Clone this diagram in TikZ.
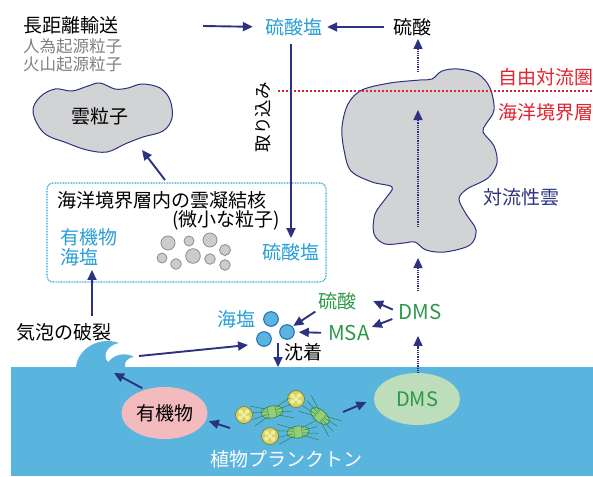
\documentclass[tikz,border=0pt]{standalone}
\usepackage{fontspec}
\setmainfont{Noto Sans CJK JP}
\usetikzlibrary{arrows.meta,shapes.geometric}

\definecolor{navy}{RGB}{44,49,128}
\definecolor{skyblue}{RGB}{40,158,214}
\definecolor{leafgreen}{RGB}{44,152,74}
\definecolor{alertred}{RGB}{224,36,46}
\definecolor{seablue}{RGB}{90,181,222}
\definecolor{saltedge}{RGB}{30,105,175}
\definecolor{cloudgray}{RGB}{210,211,213}
\definecolor{midgray}{RGB}{128,128,128}
\definecolor{pinkfill}{RGB}{243,187,190}
\definecolor{dmsfill}{RGB}{190,221,186}
\definecolor{diatomfill}{RGB}{150,205,120}
\definecolor{diatomline}{RGB}{45,130,80}
\definecolor{coccofill}{RGB}{214,212,100}
\definecolor{coccocell}{RGB}{240,236,160}

% diatom: x, y, angle
\newcommand{\diatom}[3]{%
  \begin{scope}[shift={(#1,#2)}, rotate=#3]
    \draw[fill=diatomfill, draw=diatomline, line width=0.6pt] (0,0) ellipse [x radius=11, y radius=6];
    \draw[diatomline, line width=0.4pt] (-4,-5.5) -- (-4,5.5) (4,-5.5) -- (4,5.5);
    \foreach \s in {-1,1} {
      \foreach \t in {-3,-1,1,3} {
        \draw[diatomline, line width=0.5pt] (\s*5,\t*1.3) -- (\s*20,\t*3.4);
      }
    }
  \end{scope}}

% coccolith: x, y
\newcommand{\coccolith}[2]{%
  \begin{scope}[shift={(#1,#2)}]
    \draw[fill=coccofill, draw=black!45!coccofill, line width=0.6pt] (0,0) circle [radius=8.5];
    \foreach \dx/\dy in {-3.2/-3, 3/-3.4, -3.6/2.6, 3.2/2.8, 0/0} {
      \fill[coccocell] (\dx,\dy) circle [radius=2.2];
    }
  \end{scope}}

\begin{document}
\begin{tikzpicture}[x=1pt, y=-1pt,
  lbl/.style={inner sep=0pt, font=\fontsize{19}{22}\selectfont},
  small/.style={inner sep=0pt, text=midgray, font=\fontsize{16.5}{19}\selectfont},
  arr/.style={draw=navy, line width=1.9pt, -{Triangle[length=10pt, width=9pt]}},
  dotarr/.style={draw=navy, line width=1.4pt, dash pattern=on 1pt off 0.8pt, -{Triangle[length=10pt, width=9pt]}},
  cloudline/.style={fill=cloudgray, draw=navy, line width=1pt},
  saltball/.style={circle, inner sep=0pt, minimum size=14.6pt, fill=seablue, draw=saltedge, line width=1pt},
  blob/.style={ellipse, inner sep=0pt, minimum width=86pt, minimum height=52pt, font=\fontsize{19}{22}\selectfont}]

\useasboundingbox (0,0) rectangle (593,476);

% sea and breaking wave
\fill[seablue] (11,367) rectangle (593,476);
\fill[seablue] (76,367) .. controls (78,348) and (100,336) .. (119,343)
  .. controls (107,345) and (102,356) .. (108,362)
  .. controls (115,354) and (125,352) .. (134,357)
  .. controls (127,358) and (124,362) .. (125,367) -- cycle;
\coordinate (seaTop) at (11,367);

% convective cloud
\draw[cloudline] plot[smooth cycle, tension=0.55] coordinates {
  (342,127) (348,104) (362,90) (390,83) (420,80) (432,79) (442,71) (458,69)
  (478,74) (490,88) (494,110) (486,124) (483,132) (494,146) (497,163) (488,178)
  (467,189) (459,199) (466,214) (476,230) (470,245) (445,252) (426,250) (415,242)
  (404,243) (385,244) (374,234) (375,214) (386,198) (392,187) (372,182) (351,171) (344,150)};

% cloud droplet
\draw[cloudline] plot[smooth cycle, tension=0.6] coordinates {
  (33,112) (40,97) (55,89) (72,91) (88,86) (100,83) (115,89) (128,88) (142,84)
  (160,88) (170,100) (172,118) (163,131) (143,137) (125,144) (107,152) (87,150)
  (67,143) (44,133)};
\node[lbl] (cdrop) at (100,116) {雲粒子};

% free troposphere / boundary layer line
\coordinate (ftL) at (278,91);
\coordinate (ftR) at (593,91);
\draw[alertred, line width=2pt, dash pattern=on 2pt off 2pt] (ftL) -- (ftR);
\node[lbl, text=alertred] (freeTrop) at (545.5,77) {自由対流圏};
\node[lbl, text=alertred] (mbl) at (545.5,112) {海洋境界層};
\node[lbl, text=navy] (convCloud) at (521,197) {対流性雲};

% top labels
\node[lbl, anchor=west] (transport) at (23,25) {長距離輸送};
\node[small, anchor=west] (anthro) at (23,46) {人為起源粒子};
\node[small, anchor=west] (volcano) at (23,64) {火山起源粒子};
\node[lbl, text=skyblue] (sulfTop) at (293.5,27) {硫酸塩};
\node[lbl] (sacid) at (412.5,27) {硫酸};
\node[lbl, rotate=90, font=\fontsize{17.5}{20}\selectfont] (uptake) at (263,117) {取り込み};

% CCN box
\node[draw=skyblue, line width=1.2pt, dash pattern=on 0.8pt off 0.8pt, rounded corners=6pt,
  minimum width=279pt, minimum height=99pt, inner sep=0pt] (ccn) at (186.5,232.5) {};
\node[lbl, anchor=west] (ccnTitle) at (57,200) {海洋境界層内の雲凝結核};
\node[lbl] (ccnSub) at (226,220) {(微小な粒子)};
\node[lbl, text=skyblue, anchor=west] (organic) at (60,237) {有機物};
\node[lbl, text=skyblue, anchor=west] (seasalt) at (60,257) {海塩};
\node[lbl, text=skyblue] (sulfBox) at (291,252) {硫酸塩};
\foreach \x/\y/\r in {168/243/7, 189/241/5, 210/240/7, 225/250/5.5, 162/258/5,
                      176/264/5.3, 193/256/7.3, 210/259/5.3, 225/265/5.3} {
  \draw[fill=black!20, draw=black!45, line width=0.8pt] (\x,\y) circle [radius=\r];
}

% sea salt, acids near the surface
\node[lbl] (burst) at (64,332) {気泡の破裂};
\node[lbl, text=skyblue] (saltLbl) at (236,319) {海塩};
\node[saltball] (s1) at (271,319) {};
\node[saltball] (s2) at (264,339) {};
\node[saltball] (s3) at (287,332) {};
\node[lbl, text=leafgreen] (gacid) at (337,301) {硫酸};
\node[lbl, text=leafgreen, font=\fontsize{20.5}{24}\selectfont] (msa) at (349,333) {MSA};
\node[lbl, text=leafgreen, font=\fontsize{20.5}{24}\selectfont] (dmsAir) at (420,312) {DMS};
\node[lbl] (depo) at (303,352) {沈着};

% ocean
\node[blob, fill=pinkfill] (orgSea) at (164.5,413) {有機物};
\node[blob, fill=dmsfill, text=leafgreen, font=\fontsize{20}{24}\selectfont] (dmsSea) at (417,399) {DMS};
\node[lbl, text=white] (plankton) at (286,459) {植物プランクトン};
\coccolith{244}{415}
\coccolith{296}{399}
\coccolith{270}{436}
\diatom{272}{412}{12}
\diatom{320}{416}{-40}
\diatom{298}{432}{6}

% free ends of the connectors
\coordinate (ltStart) at (203,26);
\coordinate (cTop) at (418,72);
\coordinate (cBot) at (418,245);
\coordinate (cIn1) at (418,227);
\coordinate (cIn2) at (418,110);
\coordinate (ccnTop) at (165,180);
\coordinate (dropIn) at (142,150);
\coordinate (burstTop) at (92,316);
\coordinate (waveTip) at (139,356);
\coordinate (saltHit) at (248,345);
\coordinate (depX) at (278,343);
\coordinate (waveIn) at (114,373);
\coordinate (plkL) at (230,428);
\coordinate (plkR) at (343,412);

% transport and uptake
\draw[arr, shorten >=12pt] (ltStart) -- (sulfTop.west);
\draw[arr, shorten <=9pt, shorten >=5pt] (sacid.west) -- (sulfTop.east);
\draw[dotarr, shorten >=3pt] (cTop) -- (cTop |- sacid.south);
\draw[arr, shorten <=8pt, shorten >=5pt] (sulfTop.south -| sulfBox.north) -- (sulfBox.north);
\draw[arr] (ccnTop) -- (dropIn);
\draw[dotarr] (cIn1) -- (cIn2);

% surface processes
\draw[arr, shorten >=4pt] (burstTop) -- (burstTop |- seasalt.south);
\draw[arr] (waveTip) -- (saltHit);
\draw[arr, shorten <=3pt, shorten >=1pt] (gacid.south west) -- (s3.north east);
\draw[arr, shorten <=7pt, shorten >=4pt] (msa.west) -- (s3.east);
\draw[arr, shorten <=6pt] (dmsAir.west) -- ([xshift=17pt]gacid.east);
\draw[arr] ([xshift=-6pt, yshift=-7pt]dmsAir.west) -- ([xshift=2pt, yshift=6pt]msa.east);
\draw[arr] (depX) -- (depX |- seaTop);
\draw[dotarr, shorten >=16pt] (dmsSea.north -| cTop) -- (dmsAir.south -| cTop);
\draw[dotarr, shorten <=13pt, shorten >=13pt] (dmsAir.north -| cTop) -- (cBot);

% biology
\draw[arr, shorten <=3pt] (orgSea.130) -- (waveIn);
\draw[arr, shorten >=3pt] (plkL) -- (orgSea.-10);
\draw[arr, shorten >=8pt] (plkR) -- (dmsSea.west);

\end{tikzpicture}
\end{document}
